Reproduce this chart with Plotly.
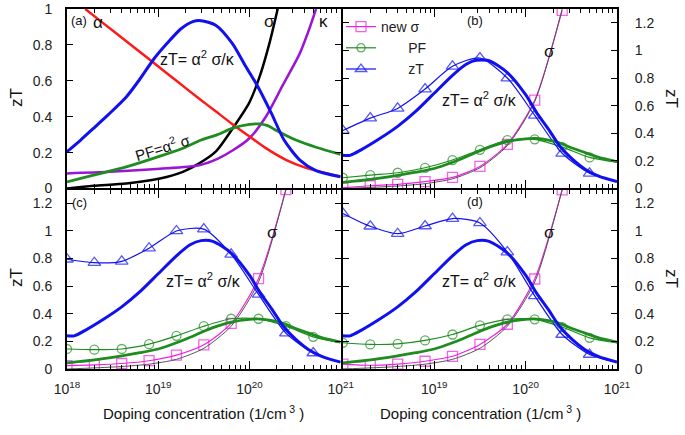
import plotly.graph_objects as go

# ---------------- data (log10 of doping concentration, values in zT units) ----------------
# Panel (a)
a_alpha_logn = [18.2, 18.4, 18.65, 18.95, 19.2, 19.45, 19.63, 19.81, 20.0, 20.18, 20.4, 20.62, 20.84, 21.0]
a_alpha = [1.0, 0.92, 0.82, 0.70, 0.60, 0.50, 0.43, 0.36, 0.29, 0.225, 0.16, 0.115, 0.085, 0.065]

a_zt_logn = [18.0, 18.15, 18.29, 18.45, 18.65, 18.8, 18.95, 19.1, 19.25, 19.38, 19.47, 19.63, 19.81,
             19.96, 20.09, 20.24, 20.38, 20.55, 20.73, 21.0]
a_zt = [0.205, 0.27, 0.335, 0.41, 0.51, 0.61, 0.72, 0.81, 0.89, 0.93, 0.935, 0.91, 0.81,
        0.68, 0.57, 0.42, 0.27, 0.16, 0.10, 0.065]

a_pf_logn = [18.0, 18.29, 18.65, 19.02, 19.3, 19.47, 19.65, 19.81, 20.0, 20.11, 20.2, 20.29, 20.51, 20.73, 21.0]
a_pf = [0.037, 0.074, 0.12, 0.18, 0.23, 0.27, 0.30, 0.335, 0.357, 0.36, 0.35, 0.325, 0.27, 0.23, 0.19]

a_kappa_logn = [18.0, 18.47, 19.02, 19.45, 19.65, 19.81, 20.0, 20.18, 20.36, 20.55, 20.65, 20.73]
a_kappa = [0.084, 0.093, 0.11, 0.13, 0.165, 0.21, 0.28, 0.40, 0.57, 0.75, 0.88, 1.0]

a_sigma_logn = [18.0, 18.29, 18.65, 19.02, 19.27, 19.45, 19.63, 19.81, 20.0, 20.11, 20.22, 20.31]
a_sigma = [0.0, 0.015, 0.028, 0.056, 0.093, 0.14, 0.205, 0.33, 0.48, 0.62, 0.81, 1.0]

# Shared thick curves of panels (b)-(d)
thick_logn = [18.0, 18.08, 18.2, 18.4, 18.6, 18.8, 19.0, 19.2, 19.35, 19.47, 19.6, 19.8, 20.0,
              20.12, 20.25, 20.37, 20.5, 20.65, 20.8, 21.0]
thick_zt = [0.24, 0.24, 0.28, 0.36, 0.45, 0.56, 0.69, 0.82, 0.90, 0.93, 0.925, 0.84, 0.68,
            0.55, 0.43, 0.31, 0.22, 0.14, 0.09, 0.05]
thick_pf = [0.044, 0.05, 0.058, 0.075, 0.095, 0.118, 0.145, 0.19, 0.23, 0.265, 0.30, 0.34, 0.36,
            0.362, 0.35, 0.33, 0.295, 0.26, 0.225, 0.195]

# Marked (new) curves
new_logn = [18.0, 18.3, 18.6, 18.9, 19.2, 19.5, 19.8, 20.1, 20.4, 20.7, 21.0]
sigma_logn = [18.0, 18.3, 18.6, 18.9, 19.2, 19.5, 19.8, 20.1, 20.4]
sigma_base = [0.0, 0.008, 0.018, 0.035, 0.07, 0.15, 0.31, 0.63, 1.30]

b_zt = [0.42, 0.51, 0.58, 0.72, 0.885, 0.945, 0.80, 0.53, 0.255, 0.11, 0.05]
b_pf = [0.078, 0.097, 0.114, 0.15, 0.206, 0.28, 0.35, 0.356, 0.30, 0.225, 0.19]
b_sigma = [0.005, 0.02, 0.03, 0.05, 0.08, 0.16, 0.32, 0.64, 1.29]

c_zt = [0.795, 0.77, 0.78, 0.875, 1.00, 1.013, 0.83, 0.54, 0.26, 0.116, 0.05]
c_pf = [0.145, 0.14, 0.145, 0.18, 0.24, 0.31, 0.364, 0.364, 0.31, 0.233, 0.19]
c_sigma = [0.024, 0.03, 0.04, 0.06, 0.10, 0.175, 0.33, 0.655, 1.30]

d_zt = [1.127, 1.034, 0.98, 1.036, 1.09, 1.058, 0.847, 0.53, 0.25, 0.105, 0.05]
d_pf = [0.19, 0.178, 0.182, 0.207, 0.25, 0.316, 0.36, 0.36, 0.304, 0.226, 0.19]
d_sigma = [0.036, 0.027, 0.036, 0.056, 0.092, 0.178, 0.324, 0.652, 1.297]

x_tickvals = [1e18, 1e19, 1e20, 1e21]
x_ticktext_left = ["10<sup>18</sup>", "10<sup>19</sup>", "10<sup>20</sup>", "10<sup>21</sup>"]
x_ticktext_right = ["", "10<sup>19</sup>", "10<sup>20</sup>", "10<sup>21</sup>"]

# ---------------- style ----------------
RED = "#ff1a1a"
BLUE = "#1010f0"
GREEN = "#1e8c1e"
PURPLE = "#9a16d6"
MAGENTA = "#f020e0"
BLACK = "#000000"
FONT = "Liberation Sans, Arial, sans-serif"

W, H = 685, 435
PL, PR, PT, PB = 67, 68, 9, 66
PW, PH = W - PL - PR, H - PT - PB


def px_x(px):
    return (px - PL) / PW


def px_y(py):
    return (H - PB - py) / PH


def tx(logs):
    return [10 ** v for v in logs]


fig = go.Figure()


def line(logs, ys, color, width, ax):
    fig.add_trace(go.Scatter(
        x=tx(logs), y=ys, mode="lines", xaxis=ax[0], yaxis=ax[1],
        line=dict(color=color, width=width, shape="spline", smoothing=0.7),
        showlegend=False, hoverinfo="skip"))


def marked(logs, ys, color, symbol, size, ax, name=None, legend=False):
    sizes = [size] * len(ys)
    if len(ys) == 11:
        sizes[-1] = 0
    fig.add_trace(go.Scatter(
        x=tx(logs), y=ys, mode="lines+markers", xaxis=ax[0], yaxis=ax[1], name=name,
        line=dict(color=color, width=1.2, shape="spline", smoothing=0.7),
        marker=dict(symbol=symbol, size=sizes, color=color, line=dict(color=color, width=1.3)),
        showlegend=legend, hoverinfo="skip"))


A = ("x", "y")
B = ("x2", "y2")
C = ("x3", "y3")
D = ("x4", "y4")

# Panel (a)
line(a_sigma_logn, a_sigma, BLACK, 2.5, A)
line(a_kappa_logn, a_kappa, PURPLE, 2.5, A)
line(a_alpha_logn, a_alpha, RED, 2.5, A)
line(a_pf_logn, a_pf, GREEN, 2.8, A)
line(a_zt_logn, a_zt, BLUE, 3, A)

# Panels (b), (c), (d)
for ax, zt, pf, sg, leg in [(B, b_zt, b_pf, b_sigma, True), (C, c_zt, c_pf, c_sigma, False),
                            (D, d_zt, d_pf, d_sigma, False)]:
    marked(sigma_logn, sg, MAGENTA, "square-open", 10, ax, name="new \u03c3", legend=leg)
    line(sigma_logn, sigma_base, "#555555", 1.0, ax)
    marked(new_logn, pf, GREEN, "circle-open", 9, ax,
           name="\u00a0\u00a0\u00a0\u00a0\u00a0\u00a0\u00a0PF", legend=leg)
    marked(new_logn, zt, BLUE, "triangle-up-open", 11, ax,
           name="\u00a0\u00a0\u00a0\u00a0\u00a0\u00a0\u00a0zT", legend=leg)
    line(thick_logn, thick_pf, GREEN, 2.8, ax)
    line(thick_logn, thick_zt, BLUE, 3, ax)

# ---------------- axes ----------------
xl = [0, 0.4975]
xr = [0.5015, 1]
yt = [0.5014, 1]
yb = [0, 0.4985]

common_x = dict(type="log", range=[18, 21], showline=True, mirror="ticks", linecolor="black",
                linewidth=2, ticks="inside", ticklen=8, tickwidth=1, tickcolor="black",
                showgrid=False, zeroline=False, tickvals=x_tickvals, automargin=False,
                tickfont=dict(family=FONT, size=14, color="#222"), ticklabelstandoff=6,
                minor=dict(ticks="inside", ticklen=4, tickcolor="black", tickwidth=1,
                           dtick="D1", showgrid=False))
common_y = dict(showline=True, mirror="ticks", linecolor="black", linewidth=2, ticks="inside",
                ticklen=6, tickwidth=1, tickcolor="black", showgrid=False, zeroline=False,
                tick0=0, dtick=0.2, automargin=False,
                tickfont=dict(family=FONT, size=14, color="#222"))

fig.update_layout(
    xaxis=dict(common_x, domain=xl, anchor="y", showticklabels=False),
    xaxis2=dict(common_x, domain=xr, anchor="y2", showticklabels=False),
    xaxis3=dict(common_x, domain=xl, anchor="y3", ticktext=x_ticktext_left),
    xaxis4=dict(common_x, domain=xr, anchor="y4", ticktext=x_ticktext_right),
    yaxis=dict(common_y, domain=yt, anchor="x", range=[0, 1], ticklabelstandoff=10),
    yaxis2=dict(common_y, domain=yt, anchor="x2", range=[0, 1.3], side="right", ticklabelstandoff=13),
    yaxis3=dict(common_y, domain=yb, anchor="x3", range=[0, 1.3], ticklabelstandoff=10),
    yaxis4=dict(common_y, domain=yb, anchor="x4", range=[0, 1.3], side="right", ticklabelstandoff=13),
)

# ---------------- annotations ----------------
anns = []


def ann(text, px, py, size=15, angle=0, xanchor="center"):
    anns.append(dict(text=text, x=px_x(px), y=px_y(py), xref="paper", yref="paper",
                     showarrow=False, font=dict(family=FONT, size=size, color="#111"),
                     textangle=angle, xanchor=xanchor, yanchor="middle"))


formula = "zT= \u03b1<sup>2</sup> \u03c3/\u03ba"
ann("(a)", 79, 20, 13)
ann("\u03b1", 98, 23, 17)
ann("\u03c3", 269, 22, 17)
ann("\u03ba", 323, 22, 17)
ann(formula, 197, 58, 16)
ann("PF=\u03b1<sup>2</sup> \u03c3", 162, 146, 15, angle=-17)

ann("(b)", 475, 20, 13)
ann(formula, 479, 99, 16)
ann("\u03c3", 549, 51, 17)

ann("(c)", 79, 202, 13)
ann(formula, 203, 280, 16)
ann("\u03c3", 272, 232, 17)

ann("(d)", 475, 201, 13)
ann(formula, 479, 280, 16)
ann("\u03c3", 549, 232, 17)

ann("zT", 16, 98, 17, angle=-90)
ann("zT", 16, 278, 17, angle=-90)
ann("zT", 672, 98, 17, angle=90)
ann("zT", 672, 278, 17, angle=90)

ann("Doping concentration (1/cm<sup> 3</sup> )", 203, 412, 15)
ann("Doping concentration (1/cm<sup> 3</sup> )", 480, 412, 15)

fig.update_layout(
    annotations=anns,
    width=W, height=H,
    margin=dict(l=PL, r=PR, t=PT, b=PB, autoexpand=False),
    paper_bgcolor="white", plot_bgcolor="white",
    font=dict(family=FONT, size=15, color="#222"),
    showlegend=True,
    legend=dict(x=px_x(341), y=px_y(11), xanchor="left", yanchor="top",
                bgcolor="rgba(0,0,0,0)", font=dict(family=FONT, size=14, color="#222"),
                itemwidth=30, tracegroupgap=0, traceorder="normal"),
)

fig.write_html("out.html", config={"displayModeBar": False},
               post_script="document.body.style.margin='0';document.body.style.overflow='hidden';")
